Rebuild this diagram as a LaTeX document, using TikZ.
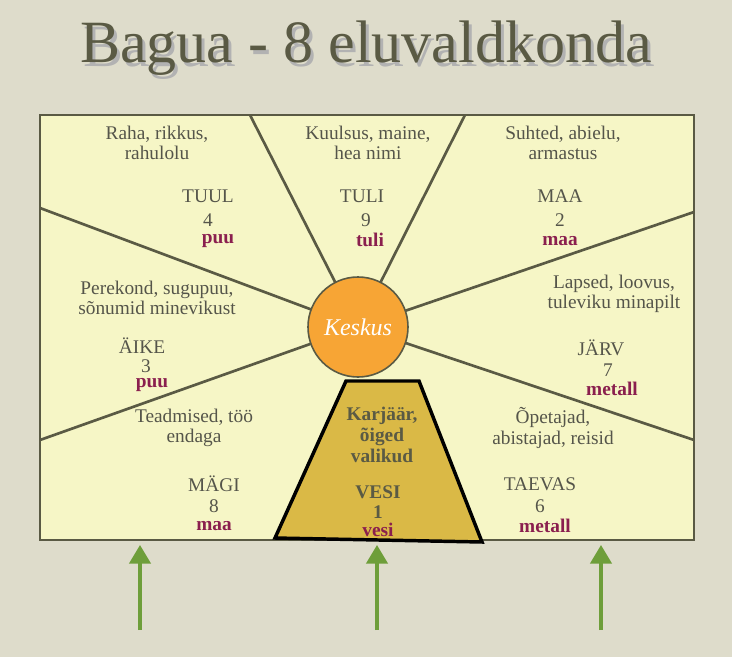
\documentclass[tikz,border=0pt]{standalone}
\usepackage{fontspec}
\setmainfont{Liberation Serif}
\usetikzlibrary{arrows.meta}
\definecolor{bg}{HTML}{DEDCCB}
\definecolor{panel}{HTML}{F6F6C6}
\definecolor{edge}{HTML}{5A5A44}
\definecolor{txt}{HTML}{55554A}
\definecolor{wine}{HTML}{8A1F4E}
\definecolor{orange}{HTML}{F7A535}
\definecolor{gold}{HTML}{DAB946}
\definecolor{arrowg}{HTML}{6E9E3A}
\tikzset{
  lbl/.style={text=txt,font=\fontsize{14.5}{15.5}\selectfont,align=center,inner sep=1pt},
  elem/.style={text=wine,font=\bfseries\fontsize{14.5}{15.5}\selectfont,inner sep=1pt},
  spoke/.style={draw=edge,line width=2pt},
  up/.style={draw=arrowg,line width=2.6pt,-{Triangle[width=16pt,length=14pt]}}
}
\begin{document}
\begin{tikzpicture}[x=0.75pt,y=-0.75pt]
\useasboundingbox (0,0) rectangle (732,657);
\fill[bg] (0,0) rectangle (732,657);
\node[text=black!30,font=\fontsize{45}{47}\selectfont] (shadow) at (369,52) {Bagua - 8 eluvaldkonda};
\node[text=edge,font=\fontsize{45}{47}\selectfont] (title) at (366,48) {Bagua - 8 eluvaldkonda};
\node[draw=edge,line width=1.2pt,fill=panel,minimum width=654*0.75pt,minimum height=425*0.75pt,inner sep=0pt] (panel) at (367,327.5) {};
\coordinate (t1) at (250,115); \coordinate (t2) at (465,115);
\coordinate (l1) at (40,208); \coordinate (l2) at (40,440);
\coordinate (r1) at (694,212); \coordinate (r2) at (694,440);
\coordinate (c) at (358,327);
\draw[spoke] (t1) -- (c); \draw[spoke] (t2) -- (c);
\draw[spoke] (l1) -- (c); \draw[spoke] (l2) -- (c);
\draw[spoke] (r1) -- (c); \draw[spoke] (r2) -- (c);
\draw[line width=2.6pt,fill=gold] (346,381) -- (419,381) -- (482,542) -- (275,538) -- cycle;
\node[circle,draw=edge,line width=1.2pt,fill=orange,minimum size=100*0.75pt,text=white,font=\itshape\fontsize{18}{19}\selectfont] (keskus) at (c) {Keskus};
% texts
\node[lbl] (a1) at (157,143) {Raha, rikkus,\\rahulolu};
\node[lbl] (a2) at (208,196) {TUUL}; \node[lbl] (a3) at (208,220) {4}; \node[elem] (a4) at (218,241) {puu};
\node[lbl] (b1) at (368,143) {Kuulsus, maine,\\hea nimi};
\node[lbl] (b2) at (362,196) {TULI}; \node[lbl] (b3) at (366,220) {9}; \node[elem] (b4) at (370,240) {tuli};
\node[lbl] (c1) at (563,143) {Suhted, abielu,\\armastus};
\node[lbl] (c2) at (560,196) {MAA}; \node[lbl] (c3) at (560,220) {2}; \node[elem] (c4) at (560,241) {maa};
\node[lbl] (d1) at (157,298) {Perekond, sugupuu,\\sõnumid minevikust};
\node[lbl] (d2) at (142,346) {ÄIKE}; \node[lbl] (d3) at (146,366) {3}; \node[elem] (d4) at (152,385) {puu};
\node[lbl] (e1) at (614,294) {Lapsed, loovus,\\tuleviku minapilt};
\node[lbl] (e2) at (601,348) {JÄRV}; \node[lbl] (e3) at (608,370) {7}; \node[elem] (e4) at (612,389) {metall};
\node[lbl] (f1) at (194,428) {Teadmised, töö\\endaga};
\node[lbl] (f2) at (214,484) {MÄGI}; \node[lbl] (f3) at (214,506) {8}; \node[elem] (f4) at (214,526) {maa};
\node[lbl] (g1) at (553,428) {Õpetajad,\\abistajad, reisid};
\node[lbl] (g2) at (540,484) {TAEVAS}; \node[lbl] (g3) at (540,506) {6}; \node[elem] (g4) at (545,526) {metall};
\node[lbl,text=edge,font=\bfseries\fontsize{14.5}{15.5}\selectfont] (h1) at (382,435) {Karjäär,\\õiged\\valikud};
\node[lbl,text=edge,font=\bfseries\fontsize{14.5}{15.5}\selectfont] (h2) at (378,492) {VESI};
\node[lbl,text=edge,font=\bfseries\fontsize{14.5}{15.5}\selectfont] (h3) at (378,512) {1};
\node[elem] (h4) at (378,530) {vesi};
% arrows
\coordinate (s1) at (140,630); \coordinate (e1p) at (140,545);
\coordinate (s2) at (377,630); \coordinate (e2p) at (377,545);
\coordinate (s3) at (601,630); \coordinate (e3p) at (601,545);
\draw[up] (s1) -- (e1p); \draw[up] (s2) -- (e2p); \draw[up] (s3) -- (e3p);
\end{tikzpicture}
\end{document}
